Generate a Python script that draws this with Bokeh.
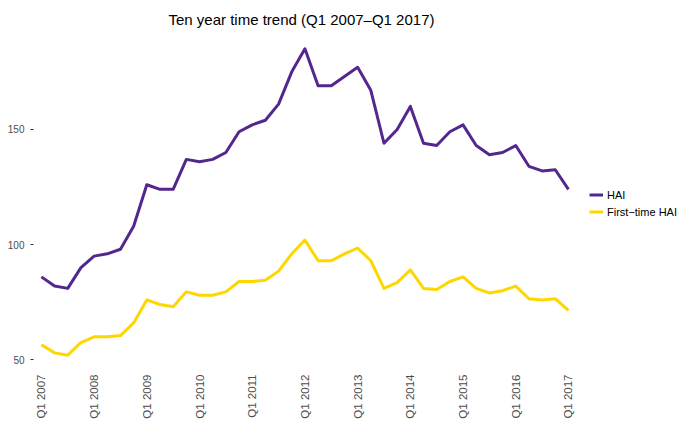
import math
from bokeh.plotting import figure
from bokeh.models import ColumnDataSource, FixedTicker, Legend, LegendItem, Range1d
from bokeh.embed import file_html
from bokeh.resources import INLINE

# ---- data ----
quarters = [f"Q{q} {y}" for y in range(2007, 2017) for q in range(1, 5)] + ["Q1 2017"]
hai = [86, 82, 81, 90, 95, 96, 98, 108, 126, 124, 124, 137, 136, 137, 140, 149,
       152, 154, 161, 175, 185, 169, 169, 173, 177, 167, 144, 150, 160, 144, 143, 149,
       152, 143, 139, 140, 143, 134, 132, 132.5, 124]
first_time_hai = [56.5, 53, 52, 57.5, 60, 60, 60.5, 66, 76, 74, 73, 79.5, 78, 78, 79.5, 84,
                  84, 84.5, 88.5, 96, 102, 93, 93, 96, 98.5, 93, 81, 83.5, 89, 81, 80.5, 84,
                  86, 81, 79, 80, 82, 76.5, 76, 76.5, 71.5]
tick_labels = [q for q in quarters if q.startswith("Q1")]
y_ticks = [50, 100, 150]
series_names = ["HAI", "First\u2212time HAI"]

idx = list(range(len(quarters)))
src = ColumnDataSource(dict(x=idx, q=quarters, hai=hai, ft=first_time_hai))

FONT = "Liberation Sans"

p = figure(width=681, height=421, output_backend="svg", toolbar_location=None,
           x_range=Range1d(-0.6, 48.58), y_range=Range1d(45.35, 191.65),
           min_border_left=33, min_border_top=33, min_border_bottom=51, min_border_right=0)
p.title.text = "Ten year time trend (Q1 2007\u2013Q1 2017)"
p.title.align = "left"
p.title.offset = 135
p.title.standoff = 11
p.title.text_font = FONT
p.title.text_font_size = "15px"
p.title.text_font_style = "normal"
p.title.text_color = "#000000"

p.outline_line_color = None
p.background_fill_color = "white"
p.border_fill_color = "white"
p.xgrid.grid_line_color = None
p.ygrid.grid_line_color = None

r1 = p.line("x", "hai", source=src, line_color="#54278F", line_width=3, line_join="round")
r2 = p.line("x", "ft", source=src, line_color="#FFD700", line_width=3, line_join="round")

# x axis
tick_pos = [i for i, q in enumerate(quarters) if q.startswith("Q1")]
p.xaxis.ticker = FixedTicker(ticks=tick_pos)
p.xaxis.major_label_overrides = {i: lab for i, lab in zip(tick_pos, tick_labels)}
p.xaxis.major_label_orientation = math.pi / 2
p.xaxis.axis_line_color = None
p.xaxis.major_tick_out = 0
p.xaxis.major_tick_in = 0
p.xaxis.minor_tick_out = 0
p.xaxis.minor_tick_in = 0
p.xaxis.major_label_standoff = 4
p.xaxis.major_label_text_font = FONT
p.xaxis.major_label_text_font_size = "11.5px"
p.xaxis.major_label_text_color = "#4d4d4d"

# y axis
p.yaxis.ticker = FixedTicker(ticks=y_ticks)
p.yaxis.axis_line_color = None
p.yaxis.major_tick_out = 3
p.yaxis.major_tick_in = 0
p.yaxis.major_tick_line_color = "#333333"
p.yaxis.minor_tick_out = 0
p.yaxis.minor_tick_in = 0
p.yaxis.major_label_standoff = 6
p.yaxis.major_label_text_font = FONT
p.yaxis.major_label_text_font_size = "10px"
p.yaxis.major_label_text_color = "#4d4d4d"

legend = Legend(items=[LegendItem(label=series_names[0], renderers=[r1]),
                       LegendItem(label=series_names[1], renderers=[r2])],
                location=(556, 150), padding=0, margin=0, spacing=0,
                glyph_width=14, glyph_height=17, label_height=17, label_standoff=4,
                border_line_color=None, background_fill_alpha=0,
                label_text_font=FONT, label_text_font_size="11px", label_text_color="#000000")
p.add_layout(legend, "center")

open("out.html", "w").write(file_html(p, INLINE))
